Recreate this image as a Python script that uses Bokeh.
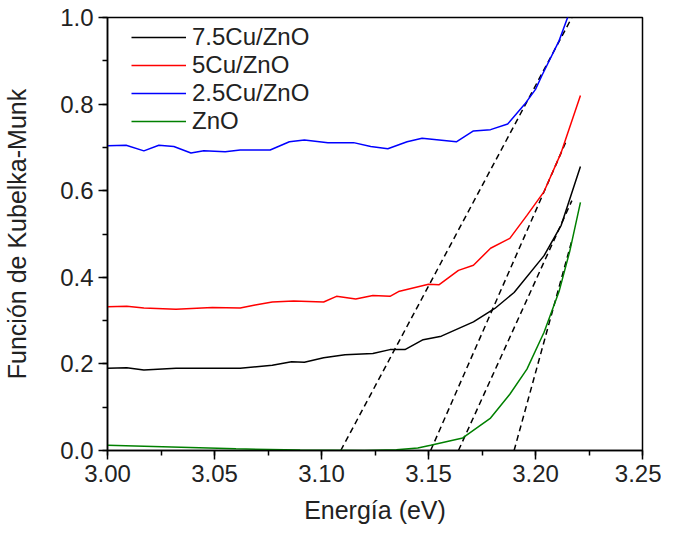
from bokeh.plotting import figure
from bokeh.models import Range1d, SingleIntervalTicker, PrintfTickFormatter, Legend, LegendItem
from bokeh.embed import file_html
from bokeh.resources import INLINE

# ---- data ----
labels = ["7.5Cu/ZnO", "5Cu/ZnO", "2.5Cu/ZnO", "ZnO"]
colors = ["#000000", "#ff0000", "#0000ff", "#008000"]

e_75 = [3.000, 3.009, 3.017, 3.032, 3.062, 3.077, 3.086, 3.092, 3.101, 3.111, 3.124,
        3.132, 3.139, 3.1475, 3.156, 3.171, 3.181, 3.190, 3.204, 3.212, 3.221]
km_75 = [0.190, 0.191, 0.186, 0.190, 0.190, 0.197, 0.205, 0.204, 0.214, 0.221, 0.224,
         0.233, 0.233, 0.256, 0.264, 0.297, 0.328, 0.365, 0.450, 0.520, 0.656]

e_5 = [3.000, 3.009, 3.017, 3.032, 3.049, 3.062, 3.069, 3.077, 3.087, 3.101, 3.107,
       3.116, 3.124, 3.132, 3.136, 3.150, 3.155, 3.164, 3.171, 3.179, 3.188, 3.196,
       3.204, 3.212, 3.221]
km_5 = [0.332, 0.333, 0.329, 0.326, 0.330, 0.329, 0.336, 0.343, 0.345, 0.343, 0.356,
        0.350, 0.358, 0.356, 0.367, 0.384, 0.383, 0.416, 0.428, 0.467, 0.490, 0.543,
        0.598, 0.688, 0.820]

e_25 = [3.000, 3.0087, 3.017, 3.024, 3.031, 3.039, 3.045, 3.055, 3.062, 3.076, 3.085,
        3.092, 3.103, 3.115, 3.123, 3.131, 3.140, 3.147, 3.163, 3.171, 3.179, 3.187,
        3.195, 3.200, 3.203, 3.211, 3.215, 3.221]
km_25 = [0.704, 0.705, 0.692, 0.705, 0.702, 0.687, 0.692, 0.690, 0.694, 0.694, 0.713,
         0.717, 0.711, 0.711, 0.702, 0.697, 0.713, 0.721, 0.713, 0.738, 0.741, 0.754,
         0.800, 0.834, 0.866, 0.946, 1.000, 1.080]

e_zno = [3.000, 3.030, 3.060, 3.090, 3.120, 3.135, 3.145, 3.151, 3.166, 3.179, 3.188,
         3.196, 3.204, 3.211, 3.216, 3.221]
km_zno = [0.012, 0.008, 0.004, 0.001, 0.000, 0.002, 0.006, 0.012, 0.029, 0.075, 0.130,
          0.188, 0.273, 0.367, 0.460, 0.573]

# tangent (band-gap extrapolation) lines
tan_x0 = [3.109, 3.151, 3.164, 3.190]
tan_y0 = [0.0, 0.0, 0.0, 0.0]
tan_x1 = [3.217, 3.2145, 3.217, 3.217]
tan_y1 = [1.0, 0.716, 0.577, 0.485]

FONT = "Liberation Sans"

p = figure(width=659, height=523, frame_width=535, frame_height=433,
           x_range=Range1d(3.0, 3.25), y_range=Range1d(0.0, 1.0),
           output_backend="svg", toolbar_location=None,
           min_border_left=105, min_border_right=19, min_border_top=17, min_border_bottom=73)

p.xgrid.visible = False
p.ygrid.visible = False
p.outline_line_color = "black"
p.outline_line_width = 1.5
p.background_fill_color = "white"
p.border_fill_color = "white"

p.xaxis.ticker = SingleIntervalTicker(interval=0.05, num_minor_ticks=2)
p.yaxis.ticker = SingleIntervalTicker(interval=0.2, num_minor_ticks=2)
p.xaxis.formatter = PrintfTickFormatter(format="%.2f")
p.yaxis.formatter = PrintfTickFormatter(format="%.1f")

for ax in (p.xaxis[0], p.yaxis[0]):
    ax.axis_line_color = "black"
    ax.axis_line_width = 1.5
    ax.major_tick_line_color = "black"
    ax.minor_tick_line_color = "black"
    ax.major_tick_line_width = 1.5
    ax.minor_tick_line_width = 1.5
    ax.major_tick_in = 0
    ax.major_tick_out = 9
    ax.minor_tick_in = 0
    ax.minor_tick_out = 5
    ax.major_label_text_font = FONT
    ax.major_label_text_font_size = "24px"
    ax.major_label_text_color = "#222222"
    ax.major_label_standoff = 5
    ax.axis_label_text_font = FONT
    ax.axis_label_text_font_size = "25px"
    ax.axis_label_text_font_style = "normal"
    ax.axis_label_text_color = "#222222"

p.xaxis.axis_label = "Energía (eV)"
p.yaxis.axis_label = "Función de Kubelka-Munk"
p.xaxis.axis_label_standoff = 11
p.yaxis.axis_label_standoff = 26

for i in range(len(tan_x0)):
    p.line([tan_x0[i], tan_x1[i]], [tan_y0[i], tan_y1[i]], line_color="black",
           line_width=1.5, line_dash="6 4")

series = [(e_75, km_75), (e_5, km_5), (e_25, km_25), (e_zno, km_zno)]
renderers = []
for (xs, ys), c in zip(series, colors):
    r = p.line(xs, ys, line_color=c, line_width=1.5)
    renderers.append(r)

legend = Legend(items=[LegendItem(label=l, renderers=[r]) for l, r in zip(labels, renderers)],
                location=(24, 315), orientation="vertical",
                border_line_color=None, background_fill_alpha=0,
                padding=0, margin=0, spacing=0,
                glyph_width=55, glyph_height=28, label_height=28,
                label_standoff=6,
                label_text_font=FONT, label_text_font_size="24px",
                label_text_color="#222222")
p.add_layout(legend, "center")

open("out.html", "w").write(file_html(p, INLINE))
